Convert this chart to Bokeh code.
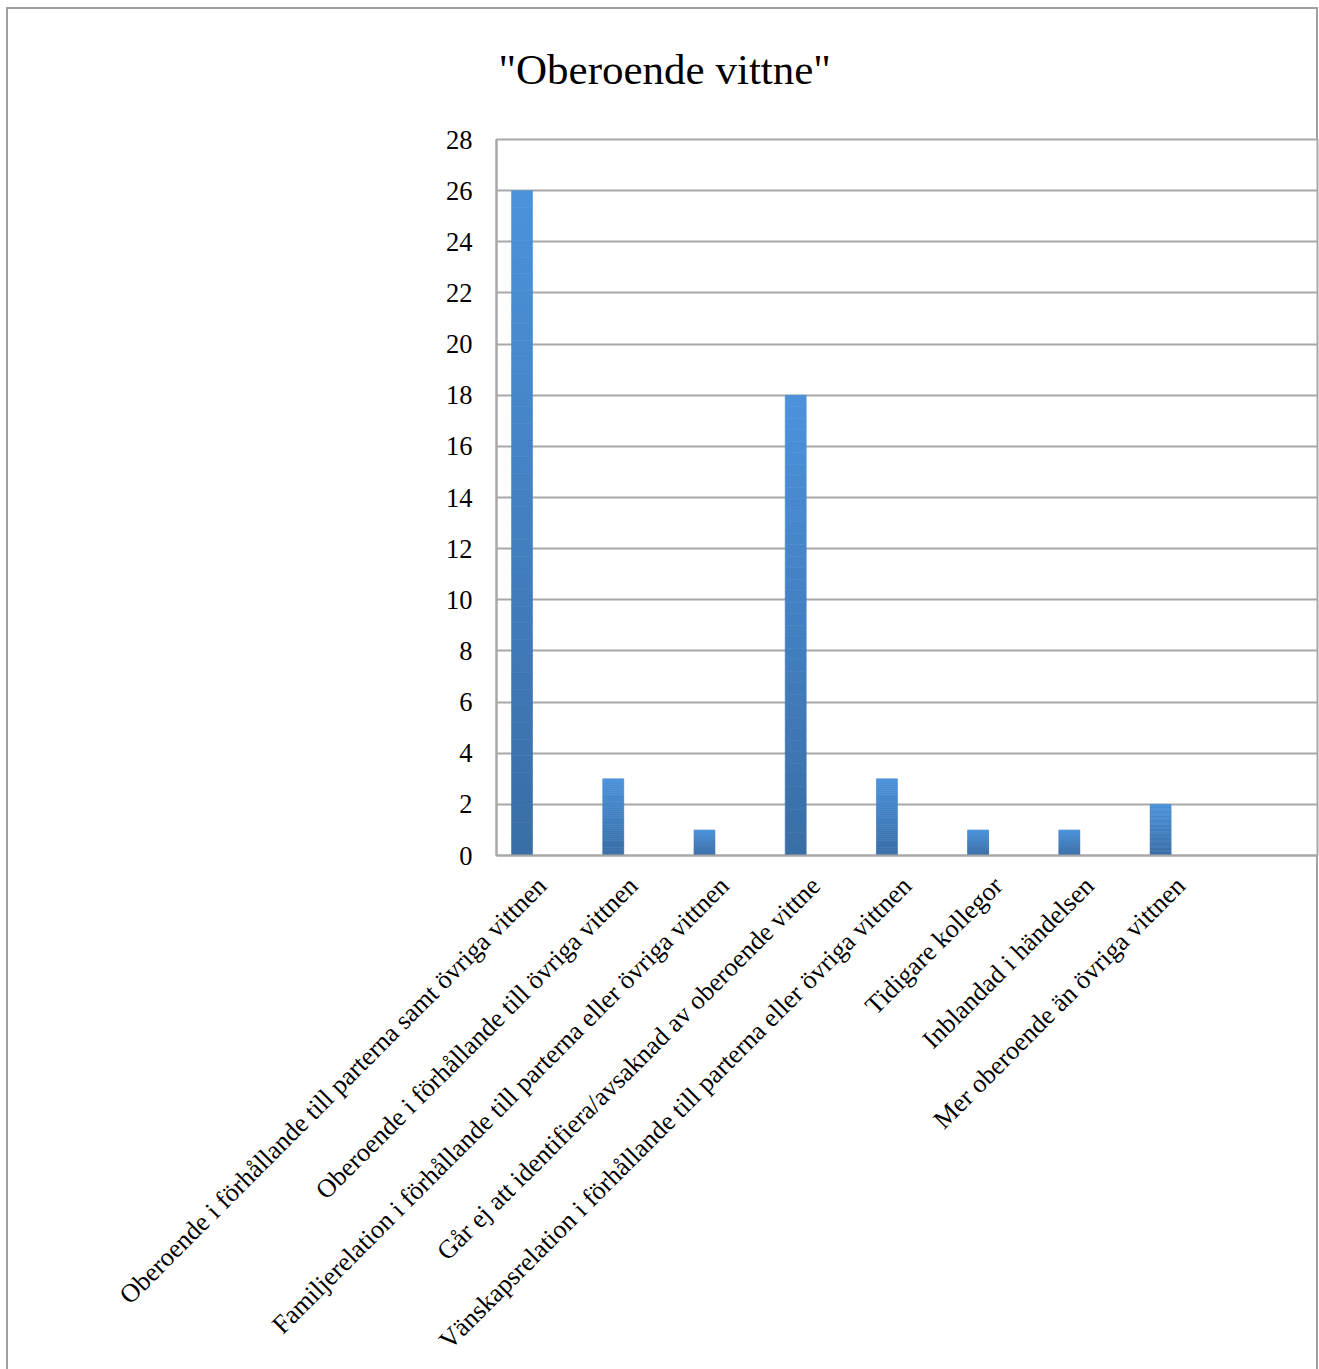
import math
from bokeh.plotting import figure
from bokeh.models import Range1d, FixedTicker, ColumnDataSource
from bokeh.embed import file_html
from bokeh.resources import INLINE

# ---- data ----
categories = [
    "Oberoende i förhållande till parterna samt övriga vittnen",
    "Oberoende i förhållande till övriga vittnen",
    "Familjerelation i förhållande till parterna eller övriga vittnen",
    "Går ej att identifiera/avsaknad av oberoende vittne",
    "Vänskapsrelation i förhållande till parterna eller övriga vittnen",
    "Tidigare kollegor",
    "Inblandad i händelsen",
    "Mer oberoende än övriga vittnen",
]
values = [26, 3, 1, 18, 3, 1, 1, 2]
n_slots = 9          # the chart reserves one empty category slot at the right
y_ticks = list(range(0, 29, 2))
title_text = '"Oberoende vittne"'

FONT = "Liberation Serif"
GRID = "#a8a8a8"
BORDER = "#a0a0a0"

W, H = 1319, 1369
p = figure(width=W, height=H, output_backend="svg", toolbar_location=None,
           x_range=Range1d(0, n_slots), y_range=Range1d(0, 28),
           min_border_left=496, min_border_right=2, min_border_top=139,
           min_border_bottom=514)

# outer chart border, painted behind the (transparent) canvas border area
line = f"linear-gradient({BORDER}, {BORDER})"
p.styles = {
    "background-color": "white",
    "background-image": f"{line}, {line}, {line}",
    "background-position": "6px 7px, 6px 7px, 1316px 7px",
    "background-size": "2px 1400px, 1312px 2px, 2px 1400px",
    "background-repeat": "no-repeat",
}
p.border_fill_alpha = 0

# title
p.title.text = title_text
p.title.text_font = FONT
p.title.text_font_size = "43px"
p.title.text_font_style = "normal"
p.title.text_color = "black"
p.title.align = "left"
p.title.offset = 2
p.title.vertical_align = "top"
p.title.standoff = 89

# bars with vertical gradient (lighter top, darker bottom), sliced from data
bottom_rgb = (0x3A, 0x6E, 0xA6)
top_rgb = (0x4B, 0x92, 0xDB)
N = 40
xs, bots, tops, cols = [], [], [], []
offset = -0.22
for i, v in enumerate(values):
    for k in range(N):
        t = (k + 0.5) / N
        r = round(bottom_rgb[0] + (top_rgb[0] - bottom_rgb[0]) * t)
        g = round(bottom_rgb[1] + (top_rgb[1] - bottom_rgb[1]) * t)
        b = round(bottom_rgb[2] + (top_rgb[2] - bottom_rgb[2]) * t)
        xs.append(i + 0.5 + offset)
        bots.append(v * k / N)
        tops.append(v * (k + 1) / N)
        cols.append("#%02x%02x%02x" % (r, g, b))
src = ColumnDataSource(dict(x=xs, bottom=bots, top=tops, color=cols))
p.vbar(x="x", bottom="bottom", top="top", width=0.23, source=src,
       fill_color="color", line_color="color", line_width=0.6)

# axes
p.xaxis.ticker = FixedTicker(ticks=[i + 0.5 for i in range(len(categories))])
p.xaxis.major_label_overrides = {i + 0.5: c for i, c in enumerate(categories)}
p.xaxis.major_label_orientation = math.pi / 4
p.xaxis.major_label_text_font = FONT
p.xaxis.major_label_text_font_size = "26.2px"
p.xaxis.major_label_text_color = "black"
p.xaxis.major_label_standoff = 20
p.xaxis.major_tick_line_color = None
p.xaxis.minor_tick_line_color = None
p.xaxis.axis_line_color = GRID
p.xaxis.axis_line_width = 2

p.yaxis.ticker = FixedTicker(ticks=y_ticks)
p.yaxis.major_label_text_font = FONT
p.yaxis.major_label_text_font_size = "26.5px"
p.yaxis.major_label_text_color = "black"
p.yaxis.major_label_standoff = 18
p.yaxis.major_tick_line_color = None
p.yaxis.minor_tick_line_color = None
p.yaxis.axis_line_color = GRID
p.yaxis.axis_line_width = 2

p.xgrid.grid_line_color = None
p.ygrid.grid_line_color = GRID
p.ygrid.grid_line_width = 2

p.outline_line_color = GRID
p.outline_line_width = 2
p.background_fill_color = "white"

open("out.html", "w").write(file_html(p, INLINE))
